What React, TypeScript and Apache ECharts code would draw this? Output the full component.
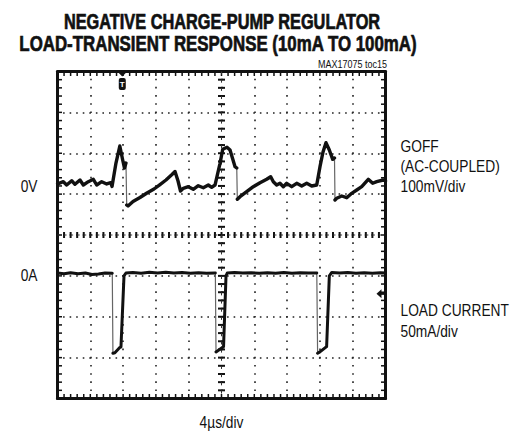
import React, { useEffect, useRef } from "react";
import * as echarts from "echarts";

// ---- graticule / scales ----
const TIME_MIN = 0; // µs
const TIME_MAX = 40; // 10 div × 4 µs/div
const TIME_PER_DIV = 4;
const DIVS_X = 10;
const DIVS_Y = 8;
const MINOR_PER_DIV = 5;
const GOFF_MIN = -520; // mV at bottom line (100 mV/div)
const GOFF_MAX = 280;
const LOAD_MIN = -153; // mA at bottom line (50 mA/div)
const LOAD_MAX = 247;

// ---- traces ----
// GOFF (AC-coupled), [time µs, mV]
const GOFF_POINTS: [number, number][] = [
  [0, 6.5], [0.18, 6.5], [0.71, 10.4], [1.12, 2.3], [1.73, 12.8], [2.13, 4.0], [2.74, 14.6],
  [3.15, 2.3], [3.76, 10.4], [4.37, 16.3], [4.78, 2.3], [5.39, 10.4], [6.0, 4.8], [6.49, 8.0],
  [6.65, -1.3], [7.13, 56], [7.6, 97.7], [7.95, 63.5], [8.17, 43.9], [8.35, 56], [8.44, -46.6],
  [8.6, -49], [9.21, -38], [10.06, -28.3], [10.91, -17.2], [11.77, -7.5], [12.5, 3.5],
  [13.23, 14.6], [13.96, 28], [14.33, 35.4], [14.7, 12.1], [15.0, -12.4], [15.34, -5.7],
  [15.95, -1.8], [16.56, -8.2], [17.17, 0.6], [17.78, -4.3], [18.39, 2.3], [18.8, -3.3],
  [19.21, 2.3], [19.82, 55.4], [20.15, 89.7], [20.67, 94.6], [21.04, 88], [21.65, 47.1],
  [21.86, 43.9], [21.93, -32.7], [22.26, -26.3], [23.07, -14.1], [23.88, -1.8], [24.7, 8],
  [25.51, 16.3], [26.0, 22.6], [26.32, 10.4], [26.73, 2.3], [27.13, 6.5], [27.54, -1.8],
  [27.95, 6.5], [28.56, -1.8], [29.17, 6.5], [29.78, -0.1], [30.39, 6.5], [31.0, -0.1],
  [31.61, 2.3], [32.01, 47.1], [32.38, 83.1], [32.74, 105.8], [33.15, 88], [33.56, 65.2],
  [33.78, 68.4], [33.84, -34.4], [34.05, -30.2], [34.66, -24.6], [35.27, -28.7], [35.88, -18],
  [36.49, -9.9], [37.1, -1.8], [37.9, 16.3], [38.44, 6.5], [38.93, 10.4], [39.73, 14.6], [40, 12.1],
];

// Load current, [time µs, mA]
const LOAD_POINTS: [number, number][] = [
  [0, 0.4], [0.8, -0.3], [1.6, 0.9], [2.5, -0.4], [3.4, 0.6], [4.2, -1.3], [5.0, -0.8],
  [5.8, 0.5], [6.68, 0.3], [6.76, -97.7], [7.0, -97], [7.62, -90.4], [7.74, -90], [8.11, -3],
  [8.35, 0.5], [9.2, 1.2], [10.2, 0.3], [11.2, 1.4], [12.2, 0.6], [13.2, 1.3], [14.2, 0.4],
  [15.2, 1.0], [16.2, 0.2], [17.2, 0.9], [18.2, 0.3], [19.25, 0.6], [19.33, -96], [20.15, -90.4],
  [20.25, -89.5], [20.55, -3], [20.7, 0.5], [21.6, 1.1], [22.6, 0.4], [23.6, 0.9], [24.6, 0.1],
  [25.6, 0.8], [26.6, 0.3], [27.6, 1.0], [28.6, 0.2], [29.6, 0.9], [30.6, 0.4], [31.62, 0.5],
  [31.72, -97.7], [32.0, -96], [32.7, -90.4], [32.82, -89.5], [33.15, -3], [33.45, 1.2],
  [34.4, 0.4], [35.4, 1.0], [36.4, 0.2], [37.4, 0.9], [38.4, 0.3], [39.4, 0.8], [40, 0.5],
];

const TRIGGER_T = 7.9; // µs, trigger marker on top edge
const LOAD_TRIG_LEVEL = -25; // mA, marker at right edge

// ---- texts ----
const TITLE_LINES = ["NEGATIVE CHARGE-PUMP REGULATOR", "LOAD-TRANSIENT RESPONSE (10mA TO 100mA)"];
const TOC_LABEL = "MAX17075 toc15";
const GOFF_LABELS = ["GOFF", "(AC-COUPLED)", "100mV/div"];
const LOAD_LABELS = ["LOAD CURRENT", "50mA/div"];
const ZERO_LABELS = ["0V", "0A"];
const TIMEBASE_LABEL = "4µs/div";

const INK = "#111";
const FONT = "'Liberation Sans', Arial, sans-serif";

// Split a trace into the slow (bright, thick) part and the fast falling edges
// (which a scope draws faint and thin): an edge is a big step taking < 0.12 µs.
function splitTrace(points: [number, number][], stepPerDiv: number) {
  const thick: any[] = [];
  const thin: any[] = [];
  for (let i = 0; i < points.length; i++) {
    thick.push(points[i]);
    if (i < points.length - 1) {
      const dt = points[i + 1][0] - points[i][0];
      const dv = points[i + 1][1] - points[i][1];
      if (dt < 0.12 && -dv > stepPerDiv * 0.6) {
        thick.push([points[i][0] + dt / 2, null]);
        thin.push(points[i], points[i + 1], [points[i + 1][0] + 0.001, null]);
      }
    }
  }
  return { thick, thin };
}

function txt(text: string, x: number, y: number, o: any = {}) {
  const align = o.align || "left";
  return {
    type: "text",
    x,
    y,
    scaleX: o.scaleX ?? 0.86,
    silent: true,
    style: {
      text,
      fill: INK,
      stroke: o.stroke ? INK : undefined,
      lineWidth: o.stroke || 0,
      fontSize: o.fontSize ?? 16,
      fontFamily: FONT,
      fontWeight: o.fontWeight ?? "normal",
      align,
      textAlign: align,
      verticalAlign: "middle",
      textVerticalAlign: "middle",
    },
  };
}

export default function App() {
  const ref = useRef<HTMLDivElement>(null);

  useEffect(() => {
    if (!ref.current) return;
    const chart = echarts.init(ref.current, null, { renderer: "svg" });

    const borderAxis = (extra: any) => ({
      type: "value",
      axisLine: { show: true, onZero: false, lineStyle: { color: INK, width: 3 } },
      axisTick: { show: false },
      axisLabel: { show: false },
      ...extra,
    });

    const goff = splitTrace(GOFF_POINTS, 100);
    const load = splitTrace(LOAD_POINTS, 50);

    const option: any = {
      animation: false,
      backgroundColor: "#fff",
      grid: { left: 57.5, top: 71.5, width: 328, height: 327, containLabel: false },
      xAxis: [
        borderAxis({
          min: TIME_MIN,
          max: TIME_MAX,
          interval: TIME_PER_DIV,
          position: "bottom",
          splitLine: {
            show: true,
            lineStyle: { color: "#222", width: 1.6, type: [1.6, 6.58], dashOffset: 0.8 },
          },
        }),
        borderAxis({
          min: TIME_MIN,
          max: TIME_MAX,
          interval: TIME_PER_DIV,
          position: "top",
          splitLine: { show: false },
        }),
      ],
      yAxis: [
        borderAxis({
          min: 0,
          max: DIVS_Y,
          interval: 1,
          position: "left",
          splitLine: {
            show: true,
            lineStyle: { color: "#222", width: 1.6, type: [1.6, 4.96], dashOffset: 0.8 },
          },
        }),
        borderAxis({ min: 0, max: DIVS_Y, interval: 1, position: "right", splitLine: { show: false } }),
        { type: "value", min: GOFF_MIN, max: GOFF_MAX, show: false },
        { type: "value", min: LOAD_MIN, max: LOAD_MAX, show: false },
      ],
      series: [
        {
          type: "custom",
          name: "trigger",
          xAxisIndex: 0,
          yAxisIndex: 0,
          clip: false,
          silent: true,
          z: 6,
          data: [[TRIGGER_T, DIVS_Y]],
          renderItem: (_p: any, api: any) => {
            const p = api.coord([api.value(0), api.value(1)]);
            return {
              type: "group",
              children: [
                {
                  type: "polygon",
                  shape: { points: [[p[0] - 5, p[1]], [p[0] + 5, p[1]], [p[0], p[1] + 5]] },
                  style: { fill: INK },
                },
                {
                  type: "rect",
                  shape: { x: p[0] - 3.5, y: p[1] + 6.5, width: 7, height: 12, r: 2 },
                  style: { fill: INK },
                },
                {
                  type: "text",
                  x: p[0],
                  y: p[1] + 12.5,
                  style: {
                    text: "T",
                    fill: "#fff",
                    fontSize: 8,
                    fontWeight: "bold",
                    fontFamily: FONT,
                    align: "center",
                    verticalAlign: "middle",
                  },
                },
              ],
            };
          },
        },
        {
          type: "custom",
          name: "load-level",
          xAxisIndex: 0,
          yAxisIndex: 3,
          clip: false,
          silent: true,
          z: 6,
          data: [[TIME_MAX, LOAD_TRIG_LEVEL]],
          renderItem: (_p: any, api: any) => {
            const p = api.coord([api.value(0), api.value(1)]);
            return {
              type: "group",
              children: [
                {
                  type: "polygon",
                  shape: { points: [[p[0] - 9, p[1]], [p[0] - 4, p[1] - 4.5], [p[0] - 4, p[1] + 4.5]] },
                  style: { fill: INK },
                },
                {
                  type: "rect",
                  shape: { x: p[0] - 5, y: p[1] - 1, width: 5, height: 2 },
                  style: { fill: INK },
                },
              ],
            };
          },
        },
        {
          type: "line",
          name: "GOFF",
          xAxisIndex: 0,
          yAxisIndex: 2,
          data: goff.thick,
          symbol: "none",
          showSymbol: false,
          connectNulls: false,
          z: 5,
          lineStyle: { color: INK, width: 3.4, join: "round", cap: "round" },
        },
        {
          type: "line",
          name: "GOFF edges",
          xAxisIndex: 0,
          yAxisIndex: 2,
          data: goff.thin,
          symbol: "none",
          showSymbol: false,
          connectNulls: false,
          z: 4,
          lineStyle: { color: "#666", width: 1.2 },
        },
        {
          type: "line",
          name: "LOAD CURRENT",
          xAxisIndex: 0,
          yAxisIndex: 3,
          data: load.thick,
          symbol: "none",
          showSymbol: false,
          connectNulls: false,
          z: 5,
          lineStyle: { color: INK, width: 3, join: "round", cap: "round" },
        },
        {
          type: "line",
          name: "LOAD CURRENT edges",
          xAxisIndex: 0,
          yAxisIndex: 3,
          data: load.thin,
          symbol: "none",
          showSymbol: false,
          connectNulls: false,
          z: 4,
          lineStyle: { color: "#666", width: 1.2 },
        },
      ],
    };

    chart.setOption(option);

    // graticule tick marks (edges and centre cross), placed through the axes
    const px = (t: number, d: number) =>
      chart.convertToPixel({ xAxisIndex: 0, yAxisIndex: 0 } as any, [t, d]) as number[];
    const bl = px(TIME_MIN, 0);
    const tr = px(TIME_MAX, DIVS_Y);
    const cen = px((TIME_MIN + TIME_MAX) / 2, DIVS_Y / 2);
    const ticks: any[] = [];
    const rect = (x: number, y: number, w: number, h: number) =>
      ticks.push({ type: "rect", silent: true, z: 3, shape: { x, y, width: w, height: h }, style: { fill: INK } });
    const nx = DIVS_X * MINOR_PER_DIV;
    const ny = DIVS_Y * MINOR_PER_DIV;
    for (let k = 0; k <= nx; k++) {
      const x = px(TIME_MIN + (k * (TIME_MAX - TIME_MIN)) / nx, 0)[0];
      rect(x - 1, cen[1] - 3, 2, 6);
      rect(x - 0.75, tr[1] + 1, 1.5, 3.5);
      rect(x - 0.75, bl[1] - 4.5, 1.5, 3.5);
    }
    for (let k = 0; k <= ny; k++) {
      const y = px(TIME_MIN, (k * DIVS_Y) / ny)[1];
      rect(cen[0] - 3.5, y - 1, 7, 2);
      rect(bl[0] + 1, y - 0.75, 3.5, 1.5);
      rect(tr[0] - 4.5, y - 0.75, 3.5, 1.5);
    }
    ticks.push({
      type: "line",
      silent: true,
      z: 3,
      shape: { x1: bl[0], y1: cen[1], x2: tr[0], y2: cen[1] },
      style: { stroke: "#333", lineWidth: 1, lineDash: [2.5, 4.06] },
    });
    ticks.push({
      type: "line",
      silent: true,
      z: 3,
      shape: { x1: cen[0], y1: tr[1], x2: cen[0], y2: bl[1] },
      style: { stroke: "#333", lineWidth: 1, lineDash: [3, 5.18] },
    });

    const yV0 = chart.convertToPixel({ yAxisIndex: 2 } as any, 0) as number;
    const yA0 = chart.convertToPixel({ yAxisIndex: 3 } as any, 0) as number;

    chart.setOption({
      graphic: [
        ...ticks,
        txt(TITLE_LINES[0], 222, 21.5, { align: "center", fontSize: 21.5, fontWeight: "bold", scaleX: 0.76, stroke: 0.7 }),
        txt(TITLE_LINES[1], 218, 44, { align: "center", fontSize: 21.5, fontWeight: "bold", scaleX: 0.785, stroke: 0.7 }),
        txt(TOC_LABEL, 387, 64.5, { align: "right", fontSize: 10, scaleX: 0.9 }),
        txt(ZERO_LABELS[0], 37.5, yV0, { align: "right" }),
        txt(ZERO_LABELS[1], 37.5, yA0 + 2, { align: "right" }),
        txt(GOFF_LABELS[0], 400.5, 146),
        txt(GOFF_LABELS[1], 400.5, 166),
        txt(GOFF_LABELS[2], 400.5, 186),
        txt(LOAD_LABELS[0], 400.5, 310),
        txt(LOAD_LABELS[1], 400.5, 331.5),
        txt(TIMEBASE_LABEL, 221.5, 422, { align: "center" }),
      ],
    });

    return () => chart.dispose();
  }, []);

  return (
    <div
      ref={ref}
      style={{ position: "absolute", left: 0, top: 0, width: 522, height: 431, background: "#fff" }}
    />
  );
}
